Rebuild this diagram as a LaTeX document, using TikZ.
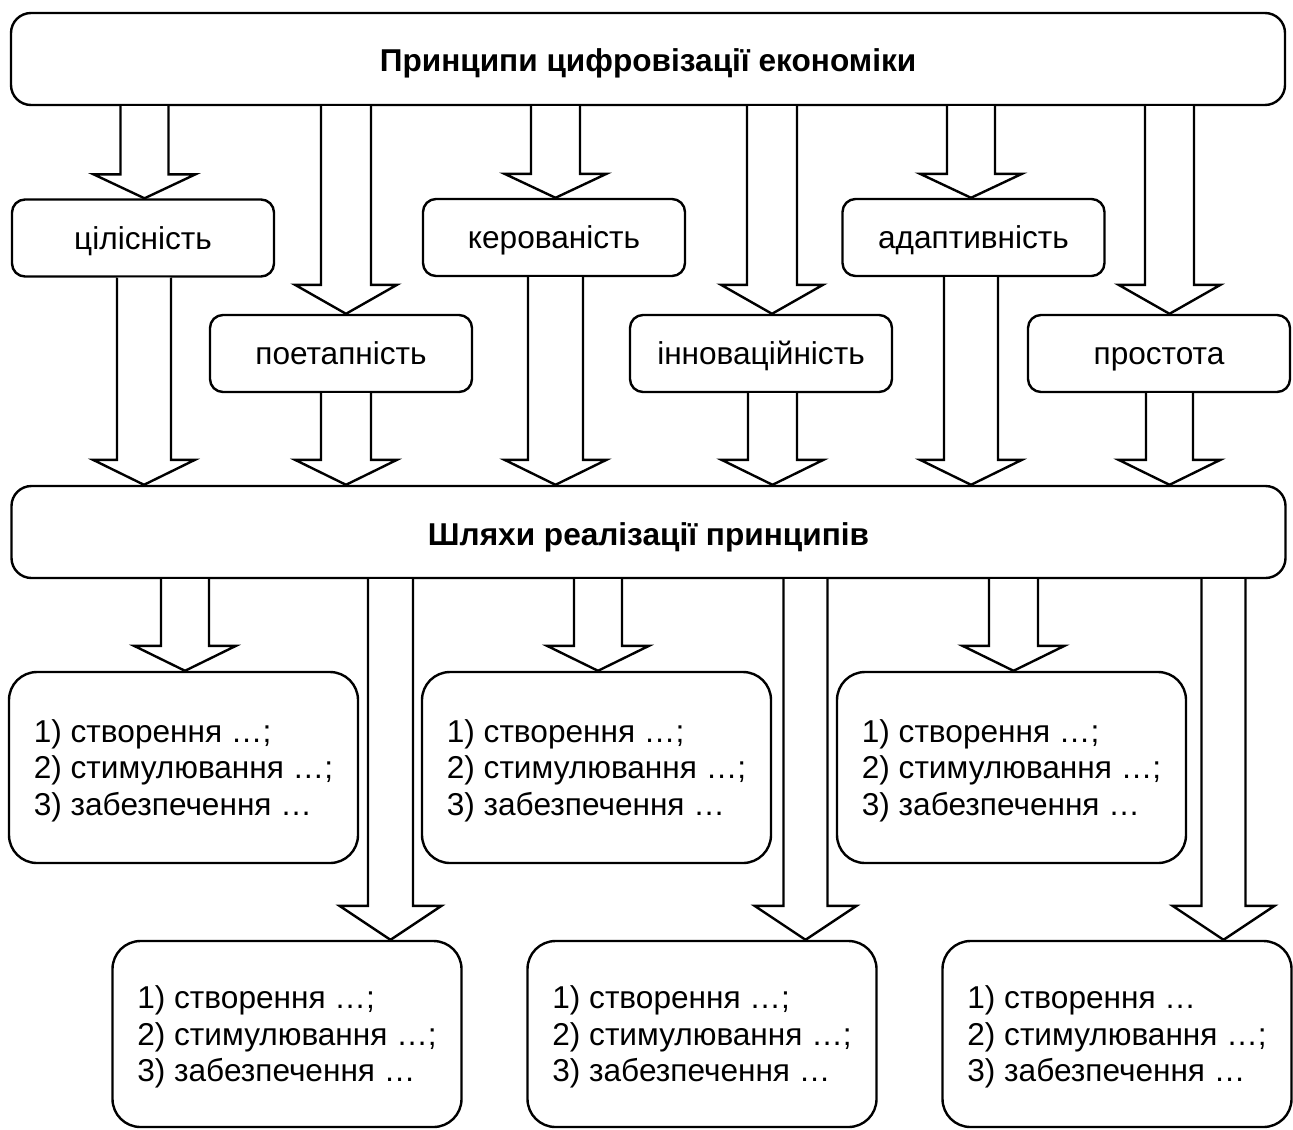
\documentclass[tikz,border=0pt]{standalone}
\usepackage{fontspec}
\setmainfont{Liberation Sans}
\usetikzlibrary{calc}

\newcommand{\blockarr}[5]{%
  \coordinate (tip) at (#1,0 |- #3.north);
  \draw[fatarrow] (#1-#4,0 |- #2.south) -- ($(tip)+(-#4,-#5)$) -- ($(tip)+(-51,-#5)$) -- (tip)
    -- ($(tip)+(51,-#5)$) -- ($(tip)+(#4,-#5)$) -- (#1+#4,0 |- #2.south);
}

\begin{document}
\begin{tikzpicture}[x=0.5pt, y=-0.5pt, font=\fontsize{15.8}{18.25}\selectfont]
			\tikzstyle{heading}=[draw, line width=1.2pt, rounded corners=10pt, minimum width=637pt, minimum height=46pt, text height=14pt, text depth=1pt, font=\fontsize{15.8}{18.25}\selectfont\bfseries]
			\tikzstyle{principle}=[draw, line width=1.2pt, rounded corners=6.5pt, minimum width=131pt, minimum height=38.5pt, text height=13pt, text depth=2pt]
			\tikzstyle{way}=[draw, line width=1.2pt, rounded corners=14pt, minimum width=174.5pt, minimum height=95.5pt, text depth=0pt, align=left]
			\tikzstyle{lowway}=[way, minimum height=93pt]
			\tikzstyle{fatarrow}=[draw, line width=1.2pt, fill=white, line join=miter]

			\useasboundingbox (0,0) rectangle (1293,1129);

			\node [heading] (top) at (648,59) {Принципи цифровізації економіки};

			\node [principle] (cil) at (143,238) {цілісність};
			\node [principle] (ker) at (554,237.5) {керованість};
			\node [principle] (adapt) at (973.5,237.5) {адаптивність};
			\node [principle] (poet) at (341,353.5) {поетапність};
			\node [principle] (innov) at (761,353.5) {інноваційність};
			\node [principle] (prost) at (1159,353.5) {простота};

			\node [heading] (ways) at (648.5,532) {Шляхи реалізації принципів};

			\node [way] (w1) at (183.5,767.5) {1) створення …;\\2) стимулювання …;\\3) забезпечення …};
			\node [way] (w2) at (596.5,767.5) {1) створення …;\\2) стимулювання …;\\3) забезпечення …};
			\node [way] (w3) at (1011.5,767.5) {1) створення …;\\2) стимулювання …;\\3) забезпечення …};
			\node [lowway] (w4) at (287,1034) {1) створення …;\\2) стимулювання …;\\3) забезпечення …};
			\node [lowway] (w5) at (702,1034) {1) створення …;\\2) стимулювання …;\\3) забезпечення …};
			\node [lowway] (w6) at (1117,1034) {1) створення …\\2) стимулювання …;\\3) забезпечення …};

			\blockarr{144.5}{top}{cil}{24}{24}
			\blockarr{346}{top}{poet}{25}{29}
			\blockarr{555.5}{top}{ker}{24.5}{24}
			\blockarr{772}{top}{innov}{25}{29}
			\blockarr{971}{top}{adapt}{24}{24}
			\blockarr{1169.5}{top}{prost}{24.5}{29}

			\blockarr{144}{cil}{ways}{27}{25}
			\blockarr{346}{poet}{ways}{25}{25}
			\blockarr{555.5}{ker}{ways}{27.5}{25}
			\blockarr{772.5}{innov}{ways}{24.5}{25}
			\blockarr{971}{adapt}{ways}{27}{25}
			\blockarr{1169.5}{prost}{ways}{23.5}{25}

			\blockarr{185}{ways}{w1}{24}{25}
			\blockarr{598}{ways}{w2}{24}{25}
			\blockarr{1013.5}{ways}{w3}{24.5}{25}
			\blockarr{390.5}{ways}{w4}{22.5}{34}
			\blockarr{805.5}{ways}{w5}{22}{34}
			\blockarr{1223.5}{ways}{w6}{22}{34}
		\end{tikzpicture}
\end{document}
